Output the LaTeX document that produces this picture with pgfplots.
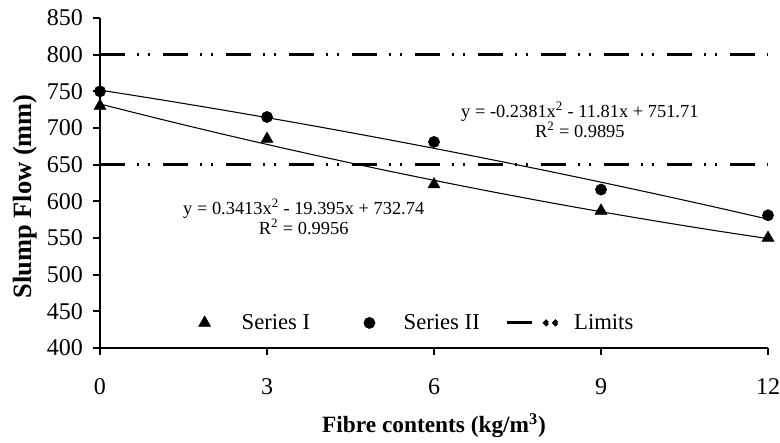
\documentclass[border=0pt]{standalone}
\usepackage{fontspec}
\setmainfont{Liberation Serif}
\usepackage{pgfplots}
\pgfplotsset{compat=1.18}
\begin{document}
\begin{tikzpicture}
\begin{axis}[
 name=ax,
 scale only axis,
 width=501pt, height=247.5pt,
 xmin=0, xmax=12, ymin=400, ymax=850,
 xtick={0,3,6,9,12}, ytick={400,450,...,850},
 axis lines=left,
 axis line style={-, line width=1.3pt},
 tick style={line width=1.3pt, black},
 tick align=outside,
 major tick length=5.25pt,
 /pgf/number format/assume math mode=true,
 tick label style={font=\fontsize{18}{20}\selectfont},
 xticklabel style={yshift=-14pt},
 yticklabel style={xshift=-4pt},
 xlabel={\textbf{Fibre contents (kg/m\textsuperscript{3})}},
 ylabel={\textbf{Slump Flow (mm)}},
 xlabel style={font=\fontsize{17.5}{20}\selectfont, at={(axis description cs:0.5,-0.236)}, anchor=center},
 ylabel style={font=\fontsize{19.8}{22}\selectfont, at={(axis description cs:-0.112,0.46)}, anchor=center},
 legend style={draw=none, fill=none, inner sep=0pt, outer sep=0pt,
   at={(0.1407,0.076)}, anchor=west,
   font=\fontsize{17}{20}\selectfont,
   /tikz/every even column/.append style={column sep=0pt}},
 legend columns=3,
 clip=false,
]
% trend lines (from the printed fit equations)
\addplot[forget plot, black, line width=0.8pt, smooth] coordinates {
(0,732.74)(1,713.686)(2,695.315)(3,677.627)(4,660.621)(5,644.298)(6,628.657)
(7,613.699)(8,599.423)(9,585.830)(10,572.92)(11,560.692)(12,549.147)};
\addplot[forget plot, black, line width=0.8pt, smooth] coordinates {
(0,751.71)(1,739.662)(2,727.138)(3,714.137)(4,700.660)(5,686.708)(6,672.278)
(7,657.373)(8,641.992)(9,626.134)(10,609.8)(11,592.990)(12,575.704)};
\addplot[only marks, mark=triangle*, mark size=5.2pt, black,
  legend image code/.code={\path[draw=none,fill=none] (-8pt,0pt) -- (25.75pt,0pt); \draw plot coordinates {(0pt,0pt)};}]
  coordinates {(0,730)(3,685)(6,623)(9,587)(12,550)};
\addlegendentry{Series I}
\addplot[only marks, mark=*, mark size=4.2pt, black,
  legend image code/.code={\path[draw=none,fill=none] (-42.4pt,0pt) -- (23.65pt,0pt); \draw plot coordinates {(0pt,0pt)};}]
  coordinates {(0,750)(3,715)(6,681)(9,616)(12,581)};
\addlegendentry{Series II}
\addplot[black, line width=2.25pt, dash pattern=on 19pt off 8.5pt on 1.5pt off 7pt on 1.5pt off 9.75pt,
  legend image code/.code={\path[draw=none,fill=none] (-18.25pt,0pt) -- (48.5pt,0pt);
  \draw[line width=2.25pt,solid] (0pt,0pt) -- (19pt,0pt);
  \fill (29.5pt,0pt) circle (1.2pt); \fill (36.5pt,0pt) circle (1.2pt);}]
  coordinates {(0,800)(12,800)};
\addlegendentry{Limits}
\addplot[forget plot, black, line width=2.25pt, dash pattern=on 19pt off 8.5pt on 1.5pt off 7pt on 1.5pt off 9.75pt]
  coordinates {(0,650)(12,650)};
\node[font=\fontsize{13.8}{15}\selectfont, align=center] at (axis cs:8.62,711)
  {y = -0.2381x\textsuperscript{2} - 11.81x + 751.71\\R\textsuperscript{2} = 0.9895};
\node[font=\fontsize{13.8}{15}\selectfont, align=center] at (axis cs:3.66,578.7)
  {y = 0.3413x\textsuperscript{2} - 19.395x + 732.74\\R\textsuperscript{2} = 0.9956};
\end{axis}
\pgfresetboundingbox
\path ([shift={(-75pt,-70.5pt)}]ax.south west) rectangle ([shift={(510pt,261pt)}]ax.south west);
\end{tikzpicture}
\end{document}
